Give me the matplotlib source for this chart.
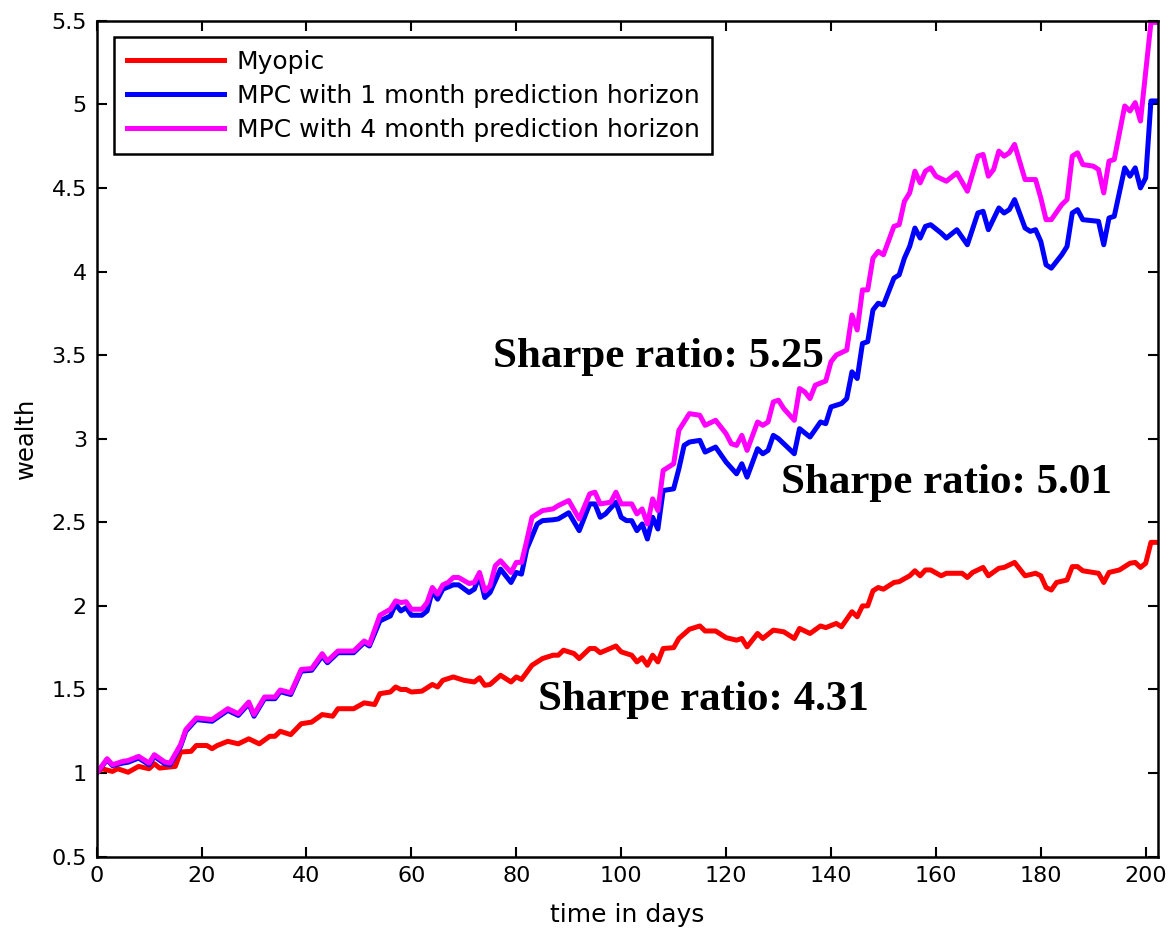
import matplotlib.pyplot as plt

# wealth over time for the three trading strategies
myopic_days = [0, 1, 3, 4, 6, 8, 10, 11, 12, 15, 16, 18, 19, 21, 22, 23, 25, 27, 29, 31,
               33, 34, 35, 37, 39, 41, 43, 45, 46, 49, 51, 53, 54, 56, 57, 58, 59, 60, 62, 64,
               65, 66, 68, 70, 72, 73, 74, 75, 77, 79, 80, 81, 83, 85, 86, 87, 88, 89, 91, 92,
               94, 95, 96, 99, 100, 102, 103, 104, 105, 106, 107, 108, 110, 111, 113, 115, 116, 118, 120, 122,
               123, 124, 126, 127, 129, 131, 133, 134, 136, 138, 139, 141, 142, 144, 145, 146, 147, 148, 149, 150,
               152, 153, 155, 156, 157, 158, 159, 161, 162, 165, 166, 167, 169, 170, 172, 173, 175, 177, 179, 180,
               181, 182, 183, 185, 186, 187, 188, 191, 192, 193, 195, 197, 198, 199, 200, 201, 202]
myopic = [1.00, 1.026, 1.01, 1.026, 1.005, 1.04, 1.026, 1.056, 1.03, 1.04, 1.126, 1.13, 1.165, 1.165, 1.146, 1.165, 1.19, 1.175, 1.205, 1.175,
          1.22, 1.22, 1.25, 1.23, 1.295, 1.305, 1.35, 1.34, 1.385, 1.385, 1.42, 1.41, 1.475, 1.485, 1.515, 1.50, 1.50, 1.485, 1.49, 1.53,
          1.515, 1.555, 1.575, 1.555, 1.545, 1.57, 1.525, 1.53, 1.585, 1.545, 1.575, 1.56, 1.645, 1.685, 1.695, 1.705, 1.705, 1.735, 1.715, 1.685,
          1.745, 1.745, 1.72, 1.76, 1.725, 1.705, 1.665, 1.69, 1.645, 1.705, 1.665, 1.745, 1.75, 1.805, 1.86, 1.88, 1.85, 1.85, 1.81, 1.795,
          1.805, 1.755, 1.835, 1.805, 1.855, 1.845, 1.805, 1.865, 1.835, 1.88, 1.87, 1.895, 1.875, 1.965, 1.935, 2.00, 2.00, 2.09, 2.11, 2.10,
          2.14, 2.145, 2.18, 2.21, 2.18, 2.215, 2.215, 2.18, 2.195, 2.195, 2.17, 2.20, 2.23, 2.18, 2.225, 2.23, 2.26, 2.18, 2.195, 2.18,
          2.11, 2.095, 2.14, 2.155, 2.235, 2.235, 2.21, 2.195, 2.14, 2.20, 2.215, 2.255, 2.26, 2.23, 2.255, 2.38, 2.38]

mpc1_days = [0, 2, 3, 5, 6, 8, 10, 11, 13, 14, 16, 17, 19, 22, 25, 27, 29, 30, 32, 34,
             35, 37, 39, 41, 43, 44, 46, 49, 51, 52, 54, 56, 57, 58, 59, 60, 62, 63, 64, 65,
             66, 68, 69, 71, 72, 73, 74, 75, 77, 79, 80, 81, 82, 84, 85, 87, 88, 90, 92, 94,
             95, 96, 97, 99, 100, 101, 102, 103, 104, 105, 106, 107, 108, 110, 111, 112, 113, 115, 116, 118,
             120, 122, 123, 124, 126, 127, 128, 129, 130, 133, 134, 136, 138, 139, 140, 142, 143, 144, 145, 146,
             147, 148, 149, 150, 152, 153, 154, 155, 156, 157, 158, 159, 161, 162, 164, 166, 168, 169, 170, 172,
             173, 174, 175, 177, 178, 179, 180, 181, 182, 184, 185, 186, 187, 188, 191, 192, 193, 194, 196, 197,
             198, 199, 200, 201, 202]
mpc1 = [1.00, 1.08, 1.045, 1.06, 1.065, 1.09, 1.05, 1.10, 1.056, 1.05, 1.16, 1.25, 1.32, 1.31, 1.375, 1.345, 1.415, 1.34, 1.445, 1.445,
        1.487, 1.47, 1.61, 1.615, 1.70, 1.66, 1.72, 1.72, 1.78, 1.76, 1.91, 1.94, 2.01, 1.97, 1.99, 1.944, 1.944, 1.97, 2.09, 2.04,
        2.10, 2.126, 2.126, 2.08, 2.10, 2.18, 2.05, 2.08, 2.22, 2.14, 2.20, 2.19, 2.34, 2.49, 2.51, 2.515, 2.52, 2.557, 2.45, 2.61,
        2.61, 2.53, 2.55, 2.62, 2.53, 2.51, 2.51, 2.45, 2.49, 2.40, 2.53, 2.46, 2.69, 2.70, 2.82, 2.96, 2.98, 2.99, 2.92, 2.95,
        2.86, 2.79, 2.85, 2.77, 2.94, 2.91, 2.93, 3.02, 3.00, 2.91, 3.06, 3.01, 3.10, 3.09, 3.19, 3.21, 3.24, 3.40, 3.36, 3.57,
        3.58, 3.77, 3.81, 3.80, 3.96, 3.98, 4.08, 4.15, 4.26, 4.20, 4.27, 4.28, 4.23, 4.20, 4.25, 4.16, 4.35, 4.36, 4.25, 4.38,
        4.35, 4.37, 4.43, 4.26, 4.24, 4.25, 4.18, 4.04, 4.02, 4.10, 4.15, 4.35, 4.37, 4.31, 4.30, 4.16, 4.32, 4.33, 4.62, 4.57,
        4.62, 4.50, 4.56, 5.02, 5.02]

mpc4_days = [0, 2, 3, 5, 6, 8, 10, 11, 13, 14, 16, 17, 19, 22, 25, 27, 29, 30, 32, 34,
             35, 37, 39, 41, 43, 44, 46, 49, 51, 52, 54, 56, 57, 58, 59, 60, 62, 63, 64, 65,
             66, 67, 68, 69, 71, 72, 73, 74, 75, 76, 77, 79, 80, 81, 82, 83, 85, 87, 88, 90,
             92, 94, 95, 96, 98, 99, 100, 102, 103, 104, 105, 106, 107, 108, 109, 110, 111, 113, 115, 116,
             118, 120, 121, 122, 123, 124, 126, 127, 128, 129, 130, 131, 133, 134, 135, 136, 137, 139, 140, 141,
             143, 144, 145, 146, 147, 148, 149, 150, 152, 153, 154, 155, 156, 157, 158, 159, 160, 162, 164, 166,
             168, 169, 170, 171, 172, 173, 174, 175, 177, 179, 180, 181, 182, 184, 185, 186, 187, 188, 190, 191,
             192, 193, 194, 196, 197, 198, 199, 201, 202]
mpc4 = [1.00, 1.086, 1.05, 1.07, 1.075, 1.10, 1.06, 1.11, 1.066, 1.06, 1.17, 1.26, 1.33, 1.32, 1.385, 1.355, 1.425, 1.35, 1.455, 1.455,
        1.497, 1.48, 1.62, 1.625, 1.714, 1.67, 1.73, 1.73, 1.79, 1.77, 1.944, 1.98, 2.03, 2.02, 2.025, 1.98, 1.98, 2.02, 2.11, 2.07,
        2.126, 2.14, 2.17, 2.17, 2.134, 2.14, 2.20, 2.09, 2.12, 2.24, 2.27, 2.20, 2.26, 2.26, 2.39, 2.53, 2.57, 2.58, 2.60, 2.63,
        2.52, 2.67, 2.68, 2.61, 2.62, 2.68, 2.61, 2.61, 2.55, 2.58, 2.49, 2.64, 2.57, 2.81, 2.83, 2.85, 3.05, 3.15, 3.14, 3.08,
        3.11, 3.03, 2.97, 2.96, 3.02, 2.93, 3.10, 3.08, 3.10, 3.22, 3.23, 3.18, 3.11, 3.30, 3.28, 3.24, 3.32, 3.345, 3.46, 3.50,
        3.53, 3.74, 3.65, 3.89, 3.89, 4.08, 4.12, 4.10, 4.27, 4.28, 4.42, 4.47, 4.60, 4.53, 4.60, 4.62, 4.57, 4.54, 4.59, 4.48,
        4.69, 4.70, 4.57, 4.61, 4.72, 4.69, 4.71, 4.76, 4.55, 4.55, 4.44, 4.31, 4.31, 4.40, 4.43, 4.69, 4.71, 4.64, 4.63, 4.61,
        4.47, 4.66, 4.67, 4.99, 4.96, 5.01, 4.90, 5.49, 5.49]

sharpe_labels = ['Sharpe ratio: 5.25', 'Sharpe ratio: 5.01', 'Sharpe ratio: 4.31']
sharpe_x = [75.6, 130.5, 84.2]
sharpe_y = [3.43, 2.675, 1.375]

plt.rcParams['font.family'] = ['DejaVu Sans']

fig = plt.figure(figsize=(11.7, 9.33), dpi=100)
ax = fig.add_axes([0.0826, 0.0818, 0.9074, 0.896])

ax.plot(myopic_days, myopic, color='#ff0000', lw=3.6, label='Myopic')
ax.plot(mpc1_days, mpc1, color='#0000ff', lw=3.6, label='MPC with 1 month prediction horizon')
ax.plot(mpc4_days, mpc4, color='#ff00ff', lw=3.6, label='MPC with 4 month prediction horizon')

for txt, x, y in zip(sharpe_labels, sharpe_x, sharpe_y):
    ax.text(x, y, txt, family='Liberation Serif', weight='bold', fontsize=31,
            va='baseline', ha='left')

ax.set_xlim(0, 202.4)
ax.set_ylim(0.5, 5.5)
ax.set_xticks(range(0, 201, 20))
yt = [0.5 * i for i in range(1, 12)]
ax.set_yticks(yt)
ax.set_yticklabels(['%g' % v for v in yt])
ax.tick_params(direction='in', top=True, right=True, length=7, width=1.5,
               labelsize=16, pad=7)
for s in ax.spines.values():
    s.set_linewidth(1.8)

ax.set_xlabel('time in days', fontsize=18, labelpad=12)
ax.set_ylabel('wealth', fontsize=17.5, labelpad=10)

leg = ax.legend(loc='upper left', bbox_to_anchor=(0.0166, 0.98), borderaxespad=0,
                fontsize=18, handlelength=3.9, handletextpad=0.5, fancybox=False,
                framealpha=1, edgecolor='black', labelspacing=0.4, borderpad=0.5)
leg.get_frame().set_linewidth(1.8)

fig.savefig('out.png', dpi=100)
